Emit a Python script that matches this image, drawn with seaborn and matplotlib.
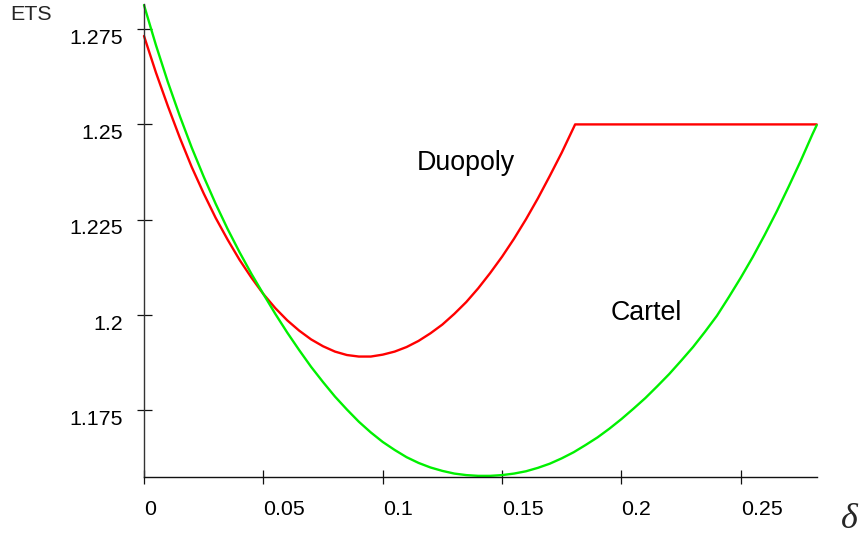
import matplotlib
matplotlib.use("Agg")
import matplotlib.pyplot as plt
import matplotlib.transforms as mtransforms
import seaborn as sns
import pandas as pd

# ---- data ----
delta_cartel = [0.000, 0.005, 0.010, 0.015, 0.020, 0.025, 0.030, 0.035, 0.040, 0.045,
                0.050, 0.055, 0.060, 0.065, 0.070, 0.075, 0.080, 0.085, 0.090, 0.095,
                0.100, 0.105, 0.110, 0.115, 0.120, 0.125, 0.130, 0.135, 0.140, 0.145,
                0.150, 0.155, 0.160, 0.165, 0.170, 0.175, 0.180, 0.185, 0.190, 0.195,
                0.200, 0.205, 0.210, 0.215, 0.220, 0.225, 0.230, 0.235, 0.240, 0.245,
                0.250, 0.255, 0.260, 0.265, 0.270, 0.275, 0.280, 0.2818]
ets_cartel = [1.2813, 1.2708, 1.2611, 1.2522, 1.2439, 1.2363, 1.2292, 1.2226, 1.2165, 1.2108,
              1.2055, 1.2003, 1.1954, 1.1908, 1.1864, 1.1824, 1.1786, 1.1752, 1.1720, 1.1692,
              1.1667, 1.1646, 1.1627, 1.1612, 1.1600, 1.1591, 1.1584, 1.1580, 1.1578, 1.1578,
              1.1580, 1.1584, 1.1590, 1.1599, 1.1610, 1.1624, 1.1640, 1.1659, 1.1679, 1.1702,
              1.1727, 1.1754, 1.1782, 1.1813, 1.1845, 1.1880, 1.1916, 1.1956, 1.1998, 1.2047,
              1.2098, 1.2152, 1.2210, 1.2271, 1.2336, 1.2403, 1.2474, 1.2498]

delta_duopoly = [0.000, 0.005, 0.010, 0.015, 0.020, 0.025, 0.030, 0.035, 0.040, 0.045,
                 0.050, 0.055, 0.060, 0.065, 0.070, 0.075, 0.080, 0.085, 0.090, 0.095,
                 0.100, 0.105, 0.110, 0.115, 0.120, 0.125, 0.130, 0.135, 0.140, 0.145,
                 0.150, 0.155, 0.160, 0.165, 0.170, 0.175, 0.180, 0.1806, 0.2818]
ets_duopoly = [1.2732, 1.2636, 1.2548, 1.2465, 1.2388, 1.2319, 1.2255, 1.2198, 1.2145, 1.2098,
               1.2055, 1.2018, 1.1986, 1.1959, 1.1936, 1.1918, 1.1904, 1.1895, 1.1891, 1.1891,
               1.1896, 1.1904, 1.1916, 1.1932, 1.1952, 1.1975, 1.2003, 1.2034, 1.2070, 1.2110,
               1.2153, 1.2200, 1.2251, 1.2306, 1.2365, 1.2426, 1.2492, 1.2500, 1.2500]

x_ticks = [0, 0.05, 0.1, 0.15, 0.2, 0.25]
x_tick_labels = ["0", "0.05", "0.1", "0.15", "0.2", "0.25"]
y_ticks = [1.175, 1.2, 1.225, 1.25, 1.275]
y_tick_labels = ["1.175", "1.2", "1.225", "1.25", "1.275"]

x_limits = (0.0, 0.2818)
y_limits = (1.15758, 1.28151)

df_c = pd.DataFrame({"delta": delta_cartel, "ETS": ets_cartel})
df_d = pd.DataFrame({"delta": delta_duopoly, "ETS": ets_duopoly})

# ---- styling ----
sns.set_style("white")
plt.rcParams["font.family"] = ["Liberation Sans", "DejaVu Sans"]

W, H, DPI = 862, 535, 100
fig = plt.figure(figsize=(W / DPI, H / DPI), dpi=DPI)
ax = fig.add_axes([144 / W, 1 - 476.7 / H, (816.7 - 144) / W, (476.7 - 4.3) / H])

sns.lineplot(data=df_d, x="delta", y="ETS", color="#ff0000", lw=1.7,
             estimator=None, sort=False, ax=ax, clip_on=False)
sns.lineplot(data=df_c, x="delta", y="ETS", color="#00f000", lw=1.7,
             estimator=None, sort=False, ax=ax, clip_on=False)

ax.set_xlim(*x_limits)
ax.set_ylim(*y_limits)
ax.set_xlabel("")
ax.set_ylabel("")

for s in ["top", "right"]:
    ax.spines[s].set_visible(False)
ax.spines["left"].set_color("#333333")
ax.spines["bottom"].set_color("#111111")
ax.spines["left"].set_linewidth(1.0)
ax.spines["bottom"].set_linewidth(1.0)

ax.set_xticks(x_ticks)
ax.set_xticklabels(x_tick_labels)
ax.set_yticks(y_ticks)
ax.set_yticklabels(y_tick_labels)

ax.tick_params(axis="x", which="major", bottom=True, direction="inout", length=10.3,
               width=0.9, color="#111111", pad=11.5, labelsize=15.4, labelcolor="black")
ax.tick_params(axis="y", which="major", left=True, direction="inout", length=10.8,
               width=0.9, color="#111111", pad=9.6, labelsize=15.4, labelcolor="black")

for lab in ax.get_xticklabels():
    lab.set_ha("left")
off = mtransforms.ScaledTranslation(0, 0.5 / DPI, fig.dpi_scale_trans)
for lab in ax.get_yticklabels():
    lab.set_va("top")
    lab.set_transform(lab.get_transform() + off)

ax.text(0.1143, 1.2380, "Duopoly", fontsize=19.3, ha="left", va="baseline", color="black")
ax.text(0.1953, 1.1987, "Cartel", fontsize=19.3, ha="left", va="baseline", color="black")

fig.text(10 / W, 1 - 20 / H, "ETS", fontsize=15.4, ha="left", va="baseline")
fig.text(841 / W, 1 - 528 / H, "δ", fontsize=26, ha="left", va="baseline",
         family=["Liberation Serif", "DejaVu Serif"], style="italic")

fig.savefig("out.png", dpi=DPI)
